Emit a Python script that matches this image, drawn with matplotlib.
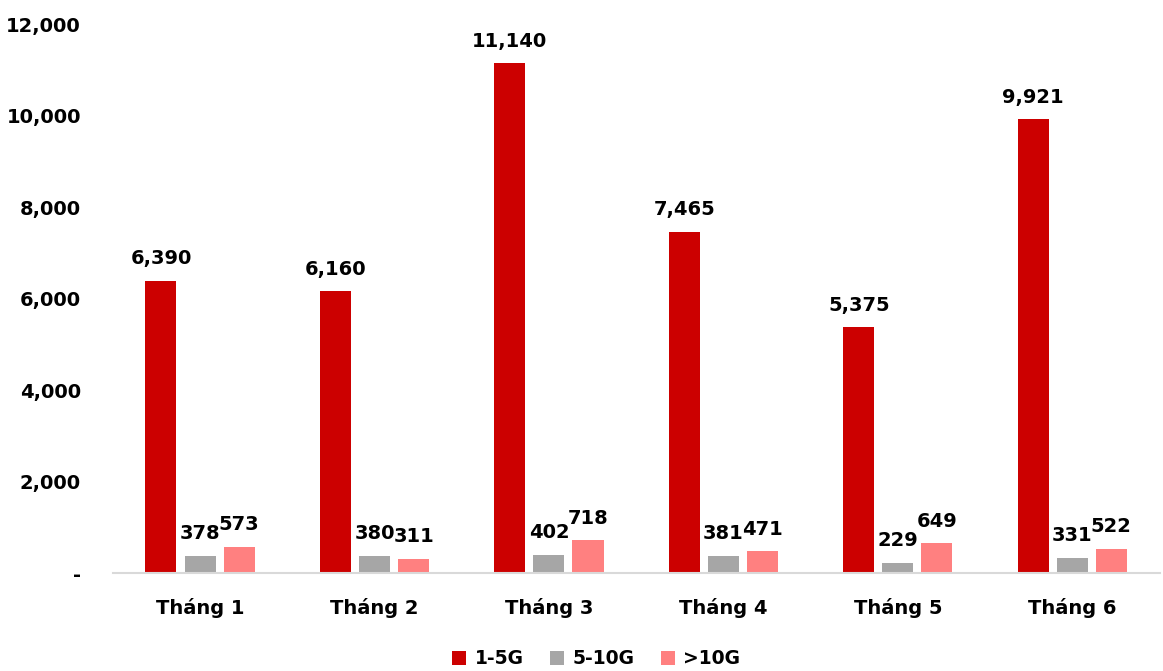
import numpy as np
import matplotlib.pyplot as plt
from matplotlib.ticker import FuncFormatter

# du lieu doc tu bieu do
months = ["Tháng 1", "Tháng 2", "Tháng 3", "Tháng 4", "Tháng 5", "Tháng 6"]
s_1_5g = [6390, 6160, 11140, 7465, 5375, 9921]
s_5_10g = [378, 380, 402, 381, 229, 331]
s_10g = [573, 311, 718, 471, 649, 522]
series_names = ["1-5G", "5-10G", ">10G"]
colors = ["#CC0000", "#A6A6A6", "#FF8080"]

plt.rcParams['font.family'] = ['DejaVu Sans']
plt.rcParams['font.weight'] = 'bold'

fig = plt.figure(figsize=(11.63, 6.71), dpi=100)
ax = fig.add_axes([0.097, 0.146, 0.9, 0.818])

x = np.arange(len(months))
w = 0.178
off = 0.224
for i, (vals, name, c) in enumerate(zip([s_1_5g, s_5_10g, s_10g], series_names, colors)):
    bars = ax.bar(x + (i - 1) * off, vals, w, color=c, label=name)
    for b, v in zip(bars, vals):
        ax.annotate(f"{v:,}", (b.get_x() + b.get_width() / 2, v),
                    xytext=(0, 12), textcoords='offset points',
                    ha='center', va='baseline', fontsize=14, fontweight='bold')

ax.set_xlim(-0.5, 5.5)
ax.set_ylim(0, 12000)
ax.set_yticks(range(0, 12001, 2000))
ax.yaxis.set_major_formatter(FuncFormatter(lambda v, p: "-" if v == 0 else f"{int(v):,}"))
ax.set_xticks(x)
ax.set_xticklabels(months)
ax.tick_params(axis='both', length=0, labelsize=14)
ax.tick_params(axis='x', pad=18)
ax.tick_params(axis='y', pad=23)
for lab in ax.get_xticklabels() + ax.get_yticklabels():
    lab.set_fontweight('bold')

for s in ['top', 'right', 'left']:
    ax.spines[s].set_visible(False)
ax.spines['bottom'].set_color('#D9D9D9')
ax.spines['bottom'].set_linewidth(1.5)

ax.legend(loc='upper center', bbox_to_anchor=(0.462, -0.108), ncol=3, frameon=False,
          fontsize=13.5, handlelength=0.75, handleheight=0.75, columnspacing=1.4,
          handletextpad=0.45)

fig.savefig("out.png", dpi=100)
